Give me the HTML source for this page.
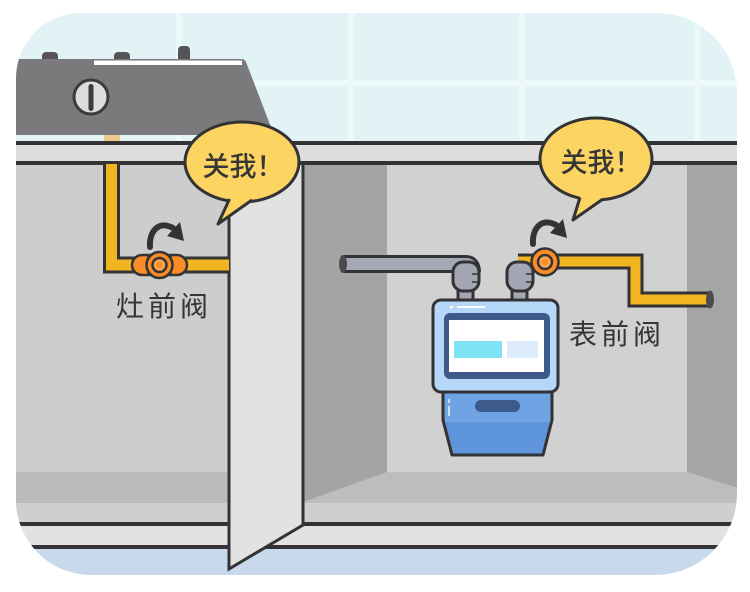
<!DOCTYPE html>
<html><head><meta charset="utf-8"><style>
html,body{margin:0;padding:0;background:#fff;}
svg{display:block;}
text{font-family:"Liberation Sans","Noto Sans CJK SC","WenQuanYi Zen Hei",sans-serif;fill:#363636;}
</style></head><body>
<svg width="750" height="592" viewBox="0 0 750 592" xmlns="http://www.w3.org/2000/svg">
<defs>
<clipPath id="c"><path d="M81,13 H657 A80,80 0 0 1 737,93 V493 A82,82 0 0 1 655,575 H91 A75,75 0 0 1 16,500 V78 A65,65 0 0 1 81,13 Z"/></clipPath>
</defs>
<rect width="750" height="592" fill="#fff"/>
<g clip-path="url(#c)">
  <!-- wall -->
  <rect x="0" y="0" width="750" height="592" fill="#e2f3f6"/>
  <rect x="176" y="0" width="6" height="145" fill="#edf8fa"/>
  <rect x="348" y="0" width="6" height="145" fill="#edf8fa"/>
  <rect x="519" y="0" width="6" height="145" fill="#edf8fa"/>
  <rect x="694" y="0" width="6" height="145" fill="#edf8fa"/>
  <rect x="0" y="80" width="750" height="6" fill="#edf8fa"/>

  <!-- stove -->
  <rect x="42" y="52" width="16" height="10" rx="4" fill="#555558"/>
  <rect x="114" y="52" width="16" height="10" rx="4" fill="#555558"/>
  <rect x="178" y="46" width="12" height="16" rx="4" fill="#555558"/>
  <path d="M16,59 H241 Q245,59 246,62 L274,135 H16 Z" fill="#7a797b"/>
  <rect x="94" y="60.5" width="148" height="4.5" fill="#fff"/>
  <circle cx="91" cy="97" r="17" fill="#dddcde" stroke="#3b3b3d" stroke-width="3"/>
  <rect x="88.5" y="84" width="5" height="27" rx="2.5" fill="#3b3b3d"/>
  <rect x="104" y="135" width="16" height="7" fill="#f0c98c"/>

  <!-- counter -->
  <rect x="0" y="141" width="750" height="4" fill="#333335"/>
  <rect x="0" y="145" width="750" height="16" fill="#dedcdd"/>
  <rect x="0" y="161" width="750" height="4" fill="#333335"/>

  <!-- left cabinet -->
  <rect x="0" y="165" width="229" height="307" fill="#cdcdcd"/>
  <rect x="0" y="472" width="229" height="31" fill="#bcbcbc"/>
  <rect x="0" y="503" width="229" height="20" fill="#cfcfcf"/>

  <!-- right cabinet interior -->
  <rect x="303" y="165" width="450" height="307" fill="#d1d1d1"/>
  <polygon points="303,472 387,472 687,472 750,492 750,503 303,503" fill="#bdbdbd"/>
  <rect x="303" y="503" width="450" height="20" fill="#cfcfcf"/>
  <polygon points="303,165 387,165 387,472 303,502" fill="#a4a4a4"/>
  <polygon points="687,165 750,165 750,492 687,472" fill="#a5a5a5"/>

  <!-- bottom plinth -->
  <rect x="0" y="522" width="750" height="4" fill="#333335"/>
  <rect x="0" y="526" width="750" height="19" fill="#e2e2e2"/>
  <rect x="0" y="545" width="750" height="4" fill="#333335"/>
  <rect x="0" y="549" width="750" height="40" fill="#c7d9ea"/>

  <!-- door -->
  <polygon points="229,163 303,163 303,525 229,569" fill="#e2e2e2" stroke="#333335" stroke-width="3" stroke-linejoin="miter"/>
  <rect x="226" y="161" width="80" height="4" fill="#333335"/>

  <!-- left yellow pipe -->
  <path d="M111.5,164 V265 H229" fill="none" stroke="#333335" stroke-width="17"/>
  <path d="M111.5,164 V265 H229" fill="none" stroke="#f0b521" stroke-width="11"/>
  <!-- left valve -->
  <rect x="132" y="255" width="55" height="20" rx="10" fill="#f98c26" stroke="#333335" stroke-width="2.5"/>
  <line x1="148" y1="256" x2="148" y2="274" stroke="#333335" stroke-width="1.5"/>
  <line x1="171" y1="256" x2="171" y2="274" stroke="#333335" stroke-width="1.5"/>
  <circle cx="159.5" cy="265" r="13" fill="#f98c26" stroke="#333335" stroke-width="2.5"/>
  <circle cx="159.5" cy="265" r="7" fill="#f9a450" stroke="#333335" stroke-width="2.5"/>
  <circle cx="159.5" cy="265" r="3" fill="#f98c26"/>

  <!-- arrows -->
  <g>
    <path d="M150,247 C149,232 158,220 173,228" fill="none" stroke="#333335" stroke-width="6" stroke-linecap="round"/>
    <polygon points="167,236 180,222 184,241" fill="#333335"/>
  </g>
  <g transform="translate(383,-3)">
    <path d="M150,247 C149,232 158,220 173,228" fill="none" stroke="#333335" stroke-width="6" stroke-linecap="round"/>
    <polygon points="167,236 180,222 184,241" fill="#333335"/>
  </g>

  <!-- gray pipe -->
  <path d="M344,264 H466 Q472,264 472,272" fill="none" stroke="#333335" stroke-width="18"/>
  <path d="M344,264 H466 Q472,264 472,272" fill="none" stroke="#a4a9b6" stroke-width="12"/>
  <ellipse cx="343" cy="264" rx="4" ry="9" fill="#4a4a4c"/>

  <!-- right yellow pipe -->
  <path d="M518,261.5 H635.5 V299.5 H710" fill="none" stroke="#333335" stroke-width="16"/>
  <path d="M518,261.5 H635.5 V299.5 H710" fill="none" stroke="#f0b521" stroke-width="10"/>
  <ellipse cx="710" cy="299.5" rx="4" ry="9" fill="#4a4a4c"/>

  <!-- fittings -->
  <rect x="458" y="286" width="15" height="17" fill="#a4a6b4" stroke="#333335" stroke-width="3"/>
  <rect x="453" y="262" width="26" height="29" rx="10" fill="#a4a6b4" stroke="#333335" stroke-width="3"/>
  <line x1="472" y1="274" x2="479" y2="274" stroke="#333335" stroke-width="1.5"/>
  <line x1="472" y1="282" x2="479" y2="282" stroke="#333335" stroke-width="1.5"/>
  <rect x="512" y="286" width="15" height="17" fill="#a4a6b4" stroke="#333335" stroke-width="3"/>
  <rect x="507" y="262" width="26" height="29" rx="10" fill="#a4a6b4" stroke="#333335" stroke-width="3"/>
  <line x1="526" y1="274" x2="533" y2="274" stroke="#333335" stroke-width="1.5"/>
  <line x1="526" y1="282" x2="533" y2="282" stroke="#333335" stroke-width="1.5"/>

  <!-- right valve -->
  <circle cx="545" cy="262" r="13.5" fill="#f98c26" stroke="#333335" stroke-width="2.5"/>
  <circle cx="545" cy="262" r="7" fill="#f9a450" stroke="#333335" stroke-width="2.5"/>
  <circle cx="545" cy="262" r="3" fill="#f98c26"/>

  <!-- meter lower body -->
  <polygon points="443,388 552,388 552,420 543,455 452,455 443,420" fill="#6fa3e3"/>
  <polygon points="443,422 552,422 543,455 452,455" fill="#5f95da"/>
  <polygon points="443,388 552,388 552,420 543,455 452,455 443,420" fill="none" stroke="#333335" stroke-width="3" stroke-linejoin="round"/>
  <rect x="475" y="400" width="45" height="12" rx="6" fill="#3d5a8c"/>
  <line x1="449" y1="399" x2="449" y2="403" stroke="#e8f2ff" stroke-width="1.5"/>
  <line x1="449" y1="406" x2="449" y2="416" stroke="#e8f2ff" stroke-width="1.5"/>

  <!-- meter upper body -->
  <rect x="433" y="300" width="125" height="92" rx="8" fill="#b6d8f8" stroke="#333335" stroke-width="3"/>
  <rect x="444" y="313" width="106" height="66" rx="6" fill="#3f5a8a"/>
  <rect x="449" y="320" width="95" height="52" fill="#ffffff"/>
  <rect x="454" y="341" width="48" height="17" fill="#7ee3f4"/>
  <rect x="507" y="341" width="31" height="17" fill="#dcecfb"/>
  <line x1="450" y1="307" x2="453" y2="307" stroke="#fff" stroke-width="2"/>
  <line x1="457" y1="307" x2="485" y2="307" stroke="#fff" stroke-width="2"/>

  <!-- left bubble -->
  <ellipse cx="242" cy="162" rx="57" ry="40" fill="#fcd462" stroke="#333335" stroke-width="3"/>
  <polygon points="231,194 218,224 259,194" fill="#fcd462"/>
  <polyline points="229.5,199 218,224 252,200" fill="none" stroke="#333335" stroke-width="3" stroke-linejoin="round"/>
  <text x="243" y="176" font-size="27" font-weight="500" text-anchor="middle">关我！</text>

  <!-- right bubble -->
  <ellipse cx="596" cy="159" rx="56" ry="41" fill="#fcd462" stroke="#333335" stroke-width="3"/>
  <polygon points="581,193 573,220 610,193" fill="#fcd462"/>
  <polyline points="580,197.5 573,220 603,199" fill="none" stroke="#333335" stroke-width="3" stroke-linejoin="round"/>
  <text x="601" y="172" font-size="27" font-weight="500" text-anchor="middle">关我！</text>

  <!-- labels -->
  <text x="116" y="316" font-size="28" letter-spacing="4">灶前阀</text>
  <text x="569" y="344" font-size="28" letter-spacing="4">表前阀</text>
</g>
</svg>
</body></html>
